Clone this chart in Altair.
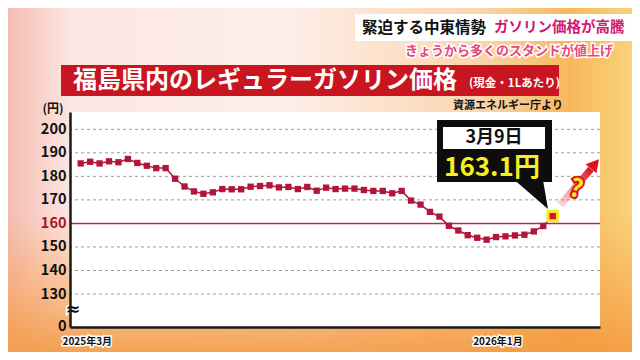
import altair as alt
import pandas as pd

# ---- data ----
prices = [185.5, 186.2, 185.5, 186.4, 186.0, 187.4, 185.7, 184.5, 183.5, 183.5,
          179.0, 175.7, 173.6, 172.6, 173.2, 174.6, 174.5, 174.5, 175.6, 175.9,
          176.2, 175.3, 175.5, 174.6, 175.5, 173.9, 175.2, 174.6, 174.8, 174.8,
          174.2, 173.8, 173.8, 172.8, 173.8, 169.7, 168.0, 164.9, 162.9, 159.0,
          157.0, 155.0, 153.9, 153.1, 154.2, 154.5, 154.9, 155.2, 156.6, 158.9,
          163.1]
week_index = list(range(1, len(prices) + 1))
x_labels = ["2025年3月", "2026年1月"]
x_label_pos = [1.7, 45.2]
y_ticks = [116, 130, 140, 150, 160, 170, 180, 190, 200]
grid_values = [130, 140, 150, 170, 180, 190, 200]
ref_values = [160]
callout_date = "3月9日"
callout_value = "163.1円"

FONT = "Noto Sans CJK JP"
LINE_COL = "#b3143c"

df = pd.DataFrame({"idx": week_index, "price": prices})
last = df.tail(1)
lab_df = pd.DataFrame({"idx": x_label_pos, "label": x_labels})
grid_df = pd.DataFrame({"price": grid_values})
ref_df = pd.DataFrame({"price": ref_values})
one = pd.DataFrame({"a": [0]})

xscale = alt.Scale(domain=[-0.133, 56.01], nice=False, zero=False)
yscale = alt.Scale(domain=[115.98, 207.35], nice=False, zero=False)

W, H = 530, 215

yaxis = alt.Axis(values=y_ticks, labelExpr="datum.value < 120 ? '0' : datum.label",
                 grid=False, ticks=False, domainColor="#1a1a1a", domainWidth=2.5,
                 labelFont=FONT, labelFontSize=14.5, labelFontWeight="bold",
                 labelPadding=4, title=None, zindex=2, labelBound=False,
                 labelColor={"condition": {"test": "datum.value == 160", "value": "#a3172e"},
                             "value": "#111111"})
xaxis = alt.Axis(labels=False, ticks=False, grid=False, domainColor="#1a1a1a",
                 domainWidth=2.5, title=None, zindex=2)

X = alt.X("idx:Q", scale=xscale, axis=xaxis)
Y = alt.Y("price:Q", scale=yscale, axis=yaxis)

bg = alt.Chart(one).mark_rect(fill={
    "gradient": "linear", "x1": 0, "y1": 0, "x2": 1, "y2": 0,
    "stops": [
        {"offset": 0, "color": "#f5bcb2"},
        {"offset": 0.1, "color": "#fce6e2"},
        {"offset": 0.45, "color": "#fdeee9"},
        {"offset": 0.75, "color": "#fbd6b0"},
        {"offset": 0.9, "color": "#f7b85a"},
        {"offset": 1, "color": "#f9d27a"},
    ]}).encode(x=alt.value(-62), x2=alt.value(562), y=alt.value(-104), y2=alt.value(240))

bg2 = alt.Chart(one).mark_rect(fill={
    "gradient": "linear", "x1": 0, "y1": 0, "x2": 0, "y2": 1,
    "stops": [
        {"offset": 0, "color": "rgba(245,160,70,0)"},
        {"offset": 0.6, "color": "rgba(245,160,70,0)"},
        {"offset": 1, "color": "rgba(243,150,60,0.85)"},
    ]}).encode(x=alt.value(-62), x2=alt.value(562), y=alt.value(-104), y2=alt.value(240))

plotbox = alt.Chart(one).mark_rect(fill="white").encode(
    x=alt.value(0), x2=alt.value(W), y=alt.value(0), y2=alt.value(H))

grid = alt.Chart(grid_df).mark_rule(color="#9a9a9a", strokeDash=[3, 3], strokeWidth=1).encode(
    y=Y)
ref = alt.Chart(ref_df).mark_rule(color="#b8294f", strokeWidth=1.5).encode(y=Y)

line = alt.Chart(df).mark_line(color=LINE_COL, strokeWidth=1.5).encode(x=X, y=Y)
pts = alt.Chart(df.iloc[:-1]).mark_square(color=LINE_COL, size=40, opacity=1).encode(x=X, y=Y)
lastpt = alt.Chart(last).mark_square(fill="#e0121e", stroke="#f6ea2c", strokeWidth=3,
                                     size=90, opacity=1).encode(x=X, y=Y)

xlab_halo = alt.Chart(lab_df).mark_text(font=FONT, fontSize=10, fontWeight="bold",
                                        stroke="white", strokeWidth=3, fill="white").encode(
    x=X, y=alt.value(230), text="label:N")
xlab = alt.Chart(lab_df).mark_text(font=FONT, fontSize=10, fontWeight="bold",
                                   color="#111111").encode(
    x=X, y=alt.value(230), text="label:N")

# callout
cbox = alt.Chart(one).mark_rect(fill="#0d0d0d").encode(
    x=alt.value(367), x2=alt.value(482), y=alt.value(8), y2=alt.value(70))
cinner = alt.Chart(one).mark_rect(fill="white").encode(
    x=alt.value(373), x2=alt.value(475), y=alt.value(15), y2=alt.value(37))
cptr = alt.Chart(one).mark_point(shape="M -0.94 -0.85 L 0.71 -0.85 L 1 0.82 Z", filled=True,
                                 fill="#0d0d0d", size=1156, opacity=1, strokeWidth=0).encode(
    x=alt.value(461), y=alt.value(83))
cdate = alt.Chart(pd.DataFrame({"t": [callout_date]})).mark_text(
    font=FONT, fontSize=18, fontWeight="bold", color="#111111", baseline="middle").encode(
    x=alt.value(424), y=alt.value(26), text="t:N")
cval = alt.Chart(pd.DataFrame({"t": [callout_value]})).mark_text(
    font=FONT, fontSize=26, fontWeight="bold", color="#f4ef1f", baseline="middle").encode(
    x=alt.value(422), y=alt.value(56), text="t:N")

# arrow with question mark
ashaft = alt.Chart(one).mark_rule(strokeWidth=7, stroke={
    "gradient": "linear", "x1": 0, "y1": 1, "x2": 1, "y2": 0,
    "stops": [{"offset": 0, "color": "rgba(240,120,130,0.3)"},
              {"offset": 1, "color": "#e0101c"}]}).encode(
    x=alt.value(490), y=alt.value(93), x2=alt.value(521), y2=alt.value(57))
ahead = alt.Chart(one).mark_point(shape="triangle-up", filled=True, fill="#e0101c",
                                  size=200, angle=40, opacity=1, strokeWidth=0).encode(
    x=alt.value(525), y=alt.value(52))
q_halo = alt.Chart(pd.DataFrame({"t": ["?"]})).mark_text(
    font=FONT, fontSize=25, fontWeight="bold", stroke="#e0101c", strokeWidth=4,
    fill="#e0101c", angle=15, baseline="middle").encode(
    x=alt.value(506), y=alt.value(77), text="t:N")
q = alt.Chart(pd.DataFrame({"t": ["?"]})).mark_text(
    font=FONT, fontSize=25, fontWeight="bold", color="#f6e62a", angle=15,
    baseline="middle").encode(x=alt.value(506), y=alt.value(77), text="t:N")

# header and titles
hbox = alt.Chart(one).mark_rect(fill="white").encode(
    x=alt.value(285), x2=alt.value(580), y=alt.value(-98), y2=alt.value(-71))
h1 = alt.Chart(pd.DataFrame({"t": ["緊迫する中東情勢"]})).mark_text(
    font=FONT, fontSize=15.5, fontWeight="bold", color="#111111", align="left",
    baseline="middle").encode(x=alt.value(292), y=alt.value(-84), text="t:N")
h2 = alt.Chart(pd.DataFrame({"t": ["ガソリン価格が高騰"]})).mark_text(
    font=FONT, fontSize=14.5, fontWeight="bold", color="#d4166f", align="left",
    baseline="middle").encode(x=alt.value(424), y=alt.value(-84), text="t:N")
sub_halo = alt.Chart(pd.DataFrame({"t": ["きょうから多くのスタンドが値上げ"]})).mark_text(
    font=FONT, fontSize=13, fontWeight="bold", stroke="white", strokeWidth=3, fill="white",
    baseline="middle").encode(x=alt.value(439), y=alt.value(-61), text="t:N")
sub = alt.Chart(pd.DataFrame({"t": ["きょうから多くのスタンドが値上げ"]})).mark_text(
    font=FONT, fontSize=13, fontWeight="bold", color="#e8457f",
    baseline="middle").encode(x=alt.value(439), y=alt.value(-61), text="t:N")
tbox = alt.Chart(one).mark_rect(fill="#c9151f").encode(
    x=alt.value(-9), x2=alt.value(489), y=alt.value(-47), y2=alt.value(-16))
t1 = alt.Chart(pd.DataFrame({"t": ["福島県内のレギュラーガソリン価格"]})).mark_text(
    font=FONT, fontSize=24, fontWeight="bold", color="white", align="left",
    baseline="middle").encode(x=alt.value(3), y=alt.value(-31), text="t:N")
t2 = alt.Chart(pd.DataFrame({"t": ["(現金・1Lあたり)"]})).mark_text(
    font=FONT, fontSize=11.5, fontWeight="bold", color="white", align="left",
    baseline="middle").encode(x=alt.value(399), y=alt.value(-28), text="t:N")
src = alt.Chart(pd.DataFrame({"t": ["資源エネルギー庁より"]})).mark_text(
    font=FONT, fontSize=11, fontWeight="bold", color="#111111",
    baseline="middle").encode(x=alt.value(438), y=alt.value(-6), text="t:N")
yen = alt.Chart(pd.DataFrame({"t": ["(円)"]})).mark_text(
    font=FONT, fontSize=12, fontWeight="bold", color="#111111",
    baseline="middle").encode(x=alt.value(-17), y=alt.value(-3), text="t:N")
brk_halo = alt.Chart(pd.DataFrame({"t": ["≈"]})).mark_text(
    font="DejaVu Sans", fontSize=18, fontWeight="bold", stroke="white", strokeWidth=3,
    fill="white", baseline="middle").encode(x=alt.value(3), y=alt.value(198), text="t:N")
brk = alt.Chart(pd.DataFrame({"t": ["≈"]})).mark_text(
    font="DejaVu Sans", fontSize=18, fontWeight="bold", color="#111111",
    baseline="middle").encode(x=alt.value(3), y=alt.value(198), text="t:N")

chart = alt.layer(
    bg, bg2, plotbox, grid, ref, line, pts, lastpt, xlab_halo, xlab,
    cbox, cinner, cptr, cdate, cval, ashaft, ahead, q_halo, q,
    hbox, h1, h2, sub_halo, sub, tbox, t1, t2, src, yen, brk_halo, brk
).properties(
    width=W, height=H,
    autosize=alt.AutoSizeParams(type="none"),
    padding={"left": 62, "top": 104, "right": 32, "bottom": 25},
    background="#fbe4dc",
).configure_view(stroke=None)

chart.save("out.html", embed_options={"renderer": "svg", "actions": False})
